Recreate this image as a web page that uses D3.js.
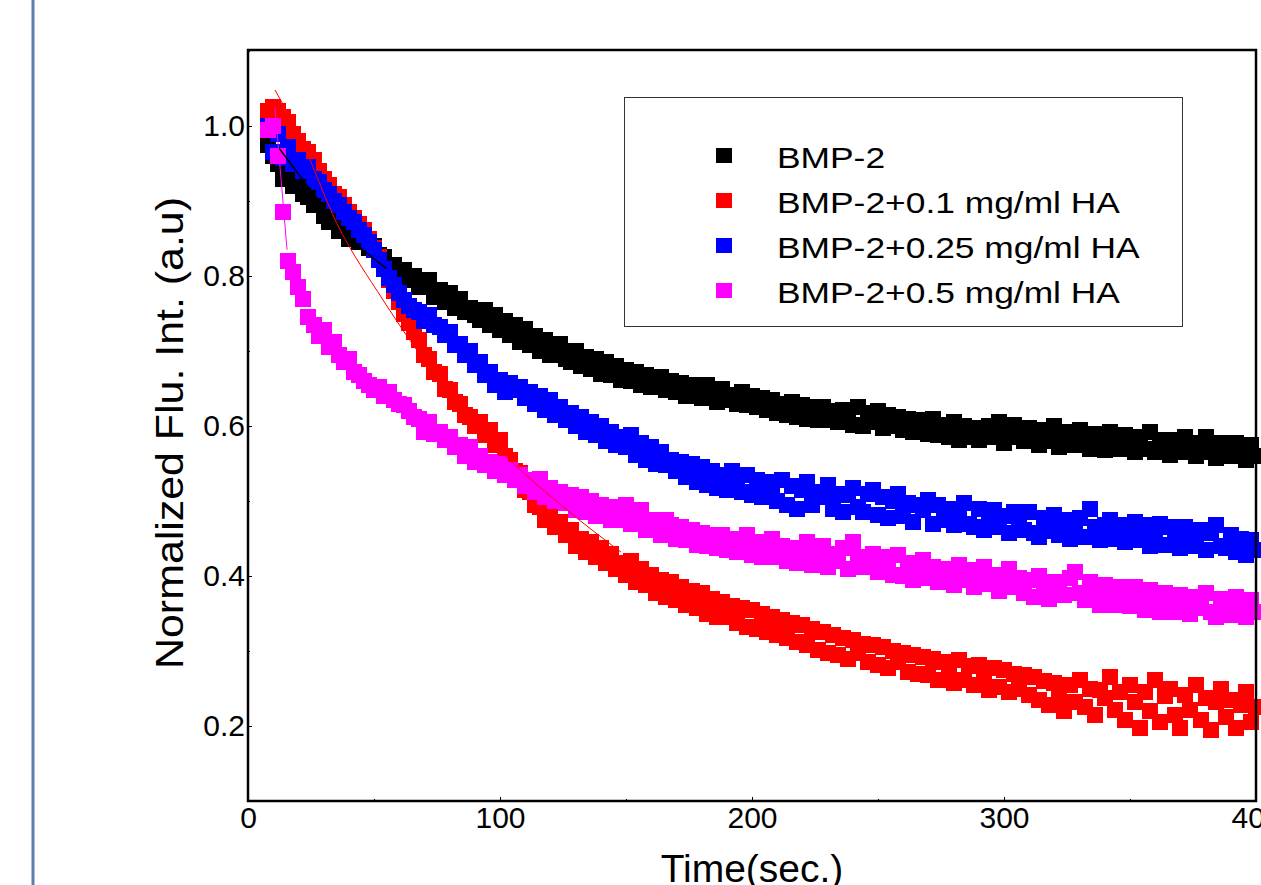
<!DOCTYPE html>
<html>
<head>
<meta charset="utf-8">
<script src="https://cdn.jsdelivr.net/npm/d3@7"></script>
<style>
  html, body { margin: 0; padding: 0; background: #fff; overflow: hidden; }
  svg { display: block; font-family: "Liberation Sans", Arial, Helvetica, sans-serif; }
</style>
</head>
<body>
<div id="chart"></div>
<script>
// ============================================
// Data
// ============================================

// sample times, seconds (8 .. 400 every 2 s)
const times = d3.range(8, 401, 2);

const bmp2 = [
  0.975, 0.96, 0.95, 0.93, 0.935, 0.92, 0.925, 0.91, 0.905, 0.895,
  0.895, 0.88, 0.872, 0.875, 0.86, 0.868, 0.85, 0.855, 0.845, 0.848,
  0.838, 0.84, 0.828, 0.825, 0.812, 0.815, 0.80, 0.808, 0.795, 0.80,
  0.785, 0.79, 0.795, 0.772, 0.782, 0.765, 0.778, 0.758, 0.77, 0.752,
  0.758, 0.748, 0.742, 0.755, 0.735, 0.748, 0.728, 0.74, 0.722, 0.735,
  0.712, 0.73, 0.708, 0.72, 0.70, 0.715, 0.695, 0.705, 0.71, 0.69,
  0.685, 0.70, 0.68, 0.692, 0.676, 0.69, 0.67, 0.685, 0.668, 0.68,
  0.662, 0.675, 0.66, 0.672, 0.655, 0.668, 0.652, 0.665, 0.665, 0.648,
  0.66, 0.645, 0.658, 0.64, 0.655, 0.65, 0.638, 0.655, 0.64, 0.632,
  0.65, 0.635, 0.642, 0.63, 0.645, 0.628, 0.64, 0.625, 0.638, 0.622,
  0.635, 0.618, 0.63, 0.615, 0.632, 0.612, 0.628, 0.61, 0.625, 0.608,
  0.625, 0.608, 0.62, 0.605, 0.622, 0.615, 0.602, 0.625, 0.60, 0.618,
  0.605, 0.62, 0.598, 0.615, 0.60, 0.612, 0.595, 0.61, 0.592, 0.608,
  0.60, 0.59, 0.61, 0.588, 0.602, 0.585, 0.605, 0.582, 0.60, 0.585,
  0.598, 0.582, 0.59, 0.60, 0.585, 0.605, 0.578, 0.598, 0.602, 0.585,
  0.58, 0.598, 0.585, 0.575, 0.595, 0.58, 0.60, 0.572, 0.592, 0.578,
  0.575, 0.595, 0.58, 0.57, 0.59, 0.585, 0.568, 0.592, 0.578, 0.57,
  0.588, 0.572, 0.565, 0.585, 0.57, 0.592, 0.565, 0.582, 0.57, 0.562,
  0.582, 0.565, 0.585, 0.572, 0.56, 0.578, 0.585, 0.565, 0.558, 0.578,
  0.57, 0.56, 0.578, 0.565, 0.555, 0.575, 0.56
];

const ha01 = [
  1.02, 1.025, 1.02, 1.012, 1.005, 0.99, 0.98, 0.97, 0.965, 0.955,
  0.94, 0.93, 0.922, 0.91, 0.905, 0.895, 0.885, 0.878, 0.87, 0.862,
  0.85, 0.838, 0.825, 0.81, 0.795, 0.78, 0.765, 0.75, 0.738, 0.725,
  0.715, 0.695, 0.69, 0.672, 0.67, 0.65, 0.648, 0.632, 0.63, 0.615,
  0.612, 0.60, 0.605, 0.588, 0.595, 0.575, 0.582, 0.56, 0.555, 0.54,
  0.538, 0.515, 0.512, 0.495, 0.492, 0.475, 0.485, 0.465, 0.472, 0.455,
  0.462, 0.44, 0.45, 0.432, 0.445, 0.425, 0.438, 0.418, 0.43, 0.41,
  0.418, 0.402, 0.42, 0.392, 0.41, 0.388, 0.402, 0.378, 0.395, 0.372,
  0.392, 0.368, 0.385, 0.362, 0.38, 0.358, 0.378, 0.35, 0.37, 0.345,
  0.365, 0.345, 0.36, 0.338, 0.358, 0.332, 0.355, 0.33, 0.35, 0.325,
  0.345, 0.322, 0.342, 0.318, 0.338, 0.312, 0.335, 0.308, 0.33, 0.302,
  0.325, 0.298, 0.322, 0.295, 0.318, 0.29, 0.315, 0.298, 0.31, 0.285,
  0.308, 0.282, 0.305, 0.278, 0.30, 0.285, 0.298, 0.272, 0.295, 0.27,
  0.292, 0.268, 0.29, 0.262, 0.285, 0.272, 0.258, 0.288, 0.262, 0.28,
  0.255, 0.282, 0.26, 0.248, 0.278, 0.252, 0.275, 0.245, 0.27, 0.25,
  0.268, 0.242, 0.265, 0.235, 0.26, 0.228, 0.258, 0.24, 0.22, 0.255,
  0.232, 0.262, 0.225, 0.25, 0.215, 0.248, 0.238, 0.265, 0.222, 0.245,
  0.208, 0.255, 0.232, 0.198, 0.245, 0.22, 0.262, 0.205, 0.24, 0.25,
  0.215, 0.198, 0.242, 0.222, 0.255, 0.208, 0.238, 0.195, 0.232, 0.25,
  0.212, 0.235, 0.198, 0.228, 0.245, 0.205, 0.225
];

const ha025 = [
  1.0, 0.965, 0.99, 0.958, 0.972, 0.95, 0.955, 0.94, 0.945, 0.93,
  0.925, 0.915, 0.91, 0.90, 0.895, 0.885, 0.878, 0.872, 0.862, 0.855,
  0.845, 0.835, 0.822, 0.81, 0.798, 0.788, 0.778, 0.768, 0.76, 0.755,
  0.752, 0.74, 0.748, 0.735, 0.732, 0.722, 0.725, 0.708, 0.71, 0.695,
  0.70, 0.682, 0.685, 0.668, 0.672, 0.655, 0.662, 0.645, 0.658, 0.648,
  0.652, 0.638, 0.645, 0.63, 0.64, 0.622, 0.635, 0.615, 0.625, 0.608,
  0.618, 0.60, 0.612, 0.592, 0.605, 0.588, 0.60, 0.58, 0.592, 0.575,
  0.585, 0.572, 0.588, 0.562, 0.578, 0.555, 0.572, 0.55, 0.565, 0.548,
  0.555, 0.54, 0.552, 0.532, 0.55, 0.525, 0.545, 0.522, 0.54, 0.518,
  0.535, 0.515, 0.54, 0.52, 0.512, 0.535, 0.508, 0.528, 0.505, 0.525,
  0.522, 0.50, 0.528, 0.495, 0.52, 0.49, 0.515, 0.525, 0.495, 0.512,
  0.505, 0.522, 0.49, 0.51, 0.485, 0.508, 0.518, 0.492, 0.485, 0.51,
  0.515, 0.482, 0.505, 0.478, 0.50, 0.51, 0.48, 0.498, 0.472, 0.495,
  0.488, 0.502, 0.47, 0.495, 0.475, 0.49, 0.468, 0.488, 0.498, 0.47,
  0.465, 0.49, 0.462, 0.482, 0.488, 0.465, 0.48, 0.458, 0.485, 0.468,
  0.462, 0.485, 0.458, 0.452, 0.478, 0.46, 0.482, 0.455, 0.475, 0.45,
  0.47, 0.478, 0.452, 0.49, 0.465, 0.448, 0.468, 0.475, 0.45, 0.468,
  0.445, 0.465, 0.472, 0.448, 0.468, 0.44, 0.462, 0.47, 0.442, 0.465,
  0.458, 0.438, 0.465, 0.448, 0.44, 0.462, 0.435, 0.458, 0.468, 0.44,
  0.438, 0.455, 0.432, 0.45, 0.428, 0.448, 0.435
];

const ha05 = [
  0.995, 1.0, 0.96, 0.885, 0.82, 0.805, 0.785, 0.77, 0.745, 0.735,
  0.72, 0.728, 0.705, 0.712, 0.695, 0.685, 0.69, 0.672, 0.668, 0.66,
  0.655, 0.648, 0.652, 0.64, 0.645, 0.635, 0.63, 0.628, 0.62, 0.612,
  0.61, 0.592, 0.605, 0.59, 0.592, 0.582, 0.585, 0.572, 0.575, 0.56,
  0.572, 0.552, 0.56, 0.548, 0.552, 0.54, 0.55, 0.535, 0.542, 0.528,
  0.535, 0.52, 0.528, 0.512, 0.53, 0.505, 0.518, 0.50, 0.512, 0.498,
  0.508, 0.488, 0.505, 0.485, 0.50, 0.48, 0.495, 0.49, 0.475, 0.492,
  0.475, 0.495, 0.47, 0.482, 0.488, 0.462, 0.475, 0.47, 0.455, 0.475,
  0.468, 0.45, 0.465, 0.448, 0.462, 0.442, 0.458, 0.44, 0.455, 0.438,
  0.455, 0.435, 0.45, 0.432, 0.448, 0.455, 0.428, 0.445, 0.425, 0.442,
  0.45, 0.425, 0.44, 0.42, 0.438, 0.418, 0.435, 0.445, 0.415, 0.432,
  0.44, 0.412, 0.43, 0.42, 0.438, 0.41, 0.445, 0.425, 0.412, 0.418,
  0.43, 0.405, 0.425, 0.412, 0.402, 0.428, 0.40, 0.418, 0.395, 0.415,
  0.422, 0.398, 0.412, 0.392, 0.41, 0.405, 0.388, 0.415, 0.395, 0.408,
  0.385, 0.405, 0.412, 0.39, 0.402, 0.38, 0.40, 0.41, 0.385, 0.398,
  0.378, 0.395, 0.372, 0.40, 0.385, 0.37, 0.392, 0.382, 0.375, 0.398,
  0.405, 0.378, 0.368, 0.392, 0.378, 0.362, 0.388, 0.375, 0.362, 0.385,
  0.378, 0.36, 0.385, 0.368, 0.355, 0.382, 0.365, 0.352, 0.378, 0.362,
  0.352, 0.375, 0.362, 0.35, 0.372, 0.358, 0.378, 0.352, 0.345, 0.37,
  0.36, 0.348, 0.372, 0.355, 0.345, 0.368, 0.352
];

// fitted curves drawn over the early part of the data: [time, value]
const fitBmp2 = [[12, 0.972], [18, 0.945], [27, 0.905], [36.5, 0.865], [45.6, 0.835], [55, 0.81]];
const fitHa01 = [[10.7, 1.048], [20, 0.99], [35.3, 0.87], [53.6, 0.768], [64.3, 0.714], [98.8, 0.572], [126.6, 0.488], [148, 0.432]];
const fitHa05 = [[10.7, 1.025], [15.5, 0.835]];

const seriesNames = ['BMP-2', 'BMP-2+0.1 mg/ml HA', 'BMP-2+0.25 mg/ml HA', 'BMP-2+0.5 mg/ml HA'];
const seriesColors = ['#000000', '#ff0000', '#0000ff', '#ff00ff'];
const seriesValues = [bmp2, ha01, ha025, ha05];

const xTicks = [0, 100, 200, 300, 400];
const xMinorTicks = [50, 150, 250, 350];
const yTicks = [0.2, 0.4, 0.6, 0.8, 1.0];
const yMinorTicks = [0.1, 0.3, 0.5, 0.7, 0.9, 1.1];

// ============================================
// Layout
// ============================================

const W = 1261, H = 885;
const plot = { left: 248, right: 1256, top: 51, bottom: 801 };
const markerSize = 16;

const svg = d3.select('#chart').append('svg')
  .attr('width', W)
  .attr('height', H);

// page margin rule on the left
svg.append('line')
  .attr('x1', 33).attr('x2', 33)
  .attr('y1', 0).attr('y2', H)
  .attr('stroke', '#5b7fae')
  .attr('stroke-width', 3);

const x = d3.scaleLinear().domain([0, 400]).range([plot.left, plot.right]);
const y = d3.scaleLinear().domain([0.1, 1.1]).range([plot.bottom, plot.top]);

// ============================================
// Markers
// ============================================

const marks = svg.append('g').attr('shape-rendering', 'crispEdges');

seriesValues.forEach((vals, si) => {
  marks.append('g')
    .attr('fill', seriesColors[si])
    .selectAll('rect')
    .data(times.map((t, i) => [t, vals[i]]))
    .join('rect')
    .attr('x', d => x(d[0]) - markerSize / 2)
    .attr('y', d => y(d[1]) - markerSize / 2)
    .attr('width', markerSize)
    .attr('height', markerSize);
});

// fit lines on top
const fitLine = d3.line()
  .x(d => x(d[0]))
  .y(d => y(d[1]))
  .curve(d3.curveMonotoneX);

[[fitBmp2, '#000000', 1.5], [fitHa01, '#ff0000', 1], [fitHa05, '#ff00ff', 1]].forEach(([pts, color, w]) => {
  svg.append('path')
    .attr('d', fitLine(pts))
    .attr('fill', 'none')
    .attr('stroke', color)
    .attr('stroke-width', w);
});

// ============================================
// Axes
// ============================================

svg.append('g')
  .attr('transform', `translate(0,${plot.bottom})`)
  .call(d3.axisBottom(x).tickValues(xTicks).tickSize(-4).tickPadding(6).tickFormat(d3.format('d')));

svg.append('g')
  .attr('transform', `translate(0,${plot.bottom})`)
  .call(d3.axisBottom(x).tickValues(xMinorTicks).tickSize(-2).tickFormat(''));

svg.append('g')
  .attr('transform', `translate(${plot.left},0)`)
  .call(d3.axisLeft(y).tickValues(yTicks).tickSize(-4).tickPadding(3).tickFormat(d3.format('.1f')));

svg.append('g')
  .attr('transform', `translate(${plot.left},0)`)
  .call(d3.axisLeft(y).tickValues(yMinorTicks).tickSize(-2).tickFormat(''));

svg.selectAll('.domain').remove();
svg.selectAll('.tick line').attr('stroke', '#000');
svg.selectAll('.tick text')
  .attr('fill', '#000')
  .style('font-family', '"Liberation Sans", Arial, sans-serif')
  .style('font-size', '30px');

// frame
svg.append('rect')
  .attr('x', plot.left).attr('y', plot.top - 1)
  .attr('width', plot.right - plot.left)
  .attr('height', plot.bottom - plot.top + 1)
  .attr('fill', 'none')
  .attr('stroke', '#000')
  .attr('stroke-width', 2.5);

// axis titles
svg.append('text')
  .attr('x', (plot.left + plot.right) / 2)
  .attr('y', 882)
  .attr('text-anchor', 'middle')
  .style('font-size', '39px')
  .text('Time(sec.)');

// the original lettering is a bit stretched along the text direction
svg.append('text')
  .attr('transform', 'translate(183,433) rotate(-90) scale(1.1,1)')
  .attr('text-anchor', 'middle')
  .style('font-size', '39px')
  .text('Normalized Flu. Int. (a.u)');

// ============================================
// Legend
// ============================================

const legend = svg.append('g');
legend.append('rect')
  .attr('x', 624.5).attr('y', 97.5)
  .attr('width', 558).attr('height', 229)
  .attr('fill', '#fff')
  .attr('stroke', '#333')
  .attr('stroke-width', 1);

const legendStretch = 1.22;

seriesNames.forEach((name, i) => {
  const cy = 155.5 + i * 45;
  legend.append('rect')
    .attr('x', 716).attr('y', cy - 7.5)
    .attr('width', 16).attr('height', 15)
    .attr('fill', seriesColors[i]);
  legend.append('text')
    .attr('transform', `translate(777,${cy + 12.5}) scale(${legendStretch},1)`)
    .style('font-size', '29px')
    .text(name);
});
</script>
</body>
</html>
